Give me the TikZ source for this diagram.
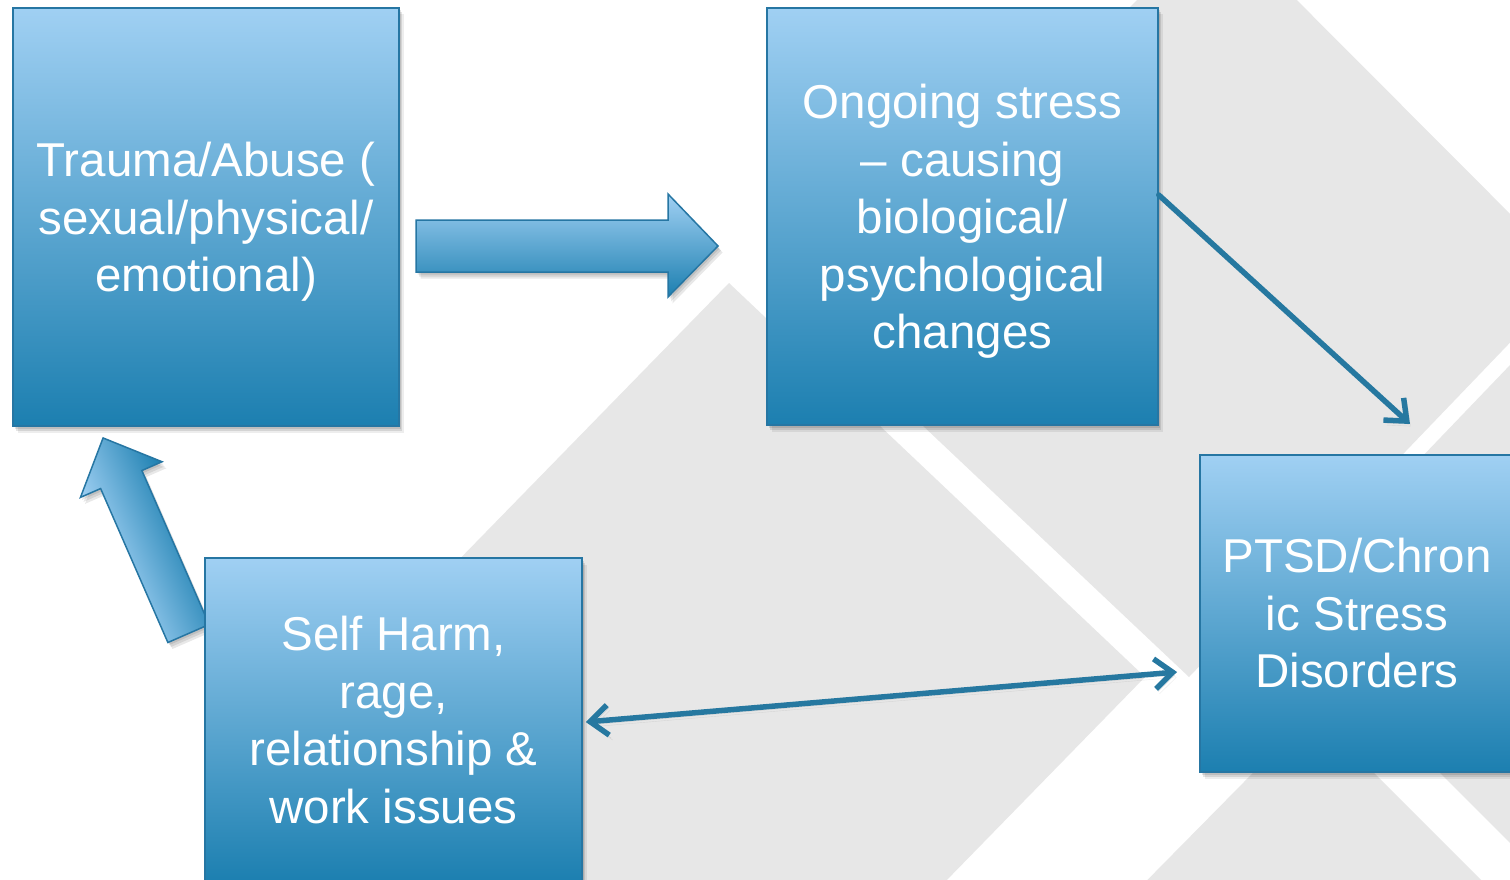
\documentclass[tikz,border=0pt]{standalone}
\usepackage{fontspec}
\setmainfont{Liberation Sans}
\usetikzlibrary{arrows.meta}
\definecolor{bggrey}{RGB}{231,231,231}
\definecolor{boxtop}{RGB}{160,208,243}
\definecolor{boxmid}{RGB}{112,172,214}
\definecolor{boxbot}{RGB}{28,127,176}
\definecolor{boxedge}{RGB}{38,118,163}
\definecolor{linkblue}{RGB}{38,120,160}
\begin{document}
\begin{tikzpicture}[x=1pt,y=-1pt,
  softshadow/.style={
    preaction={fill=black,opacity=0.10,transform canvas={xshift=1.5pt,yshift=-2.5pt}},
    preaction={fill=black,opacity=0.10,transform canvas={xshift=3pt,yshift=-4.5pt}},
    preaction={fill=black,opacity=0.07,transform canvas={xshift=4.5pt,yshift=-6.5pt}}},
  stepbox/.style={softshadow,draw=boxedge,line width=1.5pt,top color=boxtop,middle color=boxmid,bottom color=boxbot,
    text=white,align=center,font=\fontsize{47.5}{57.5}\selectfont,inner sep=0pt},
  blockarrow/.style={draw=boxedge,line width=1.5pt,top color=boxtop,bottom color=boxbot,line join=miter},
  arrowshade/.style={fill=black,opacity=0.09},
  link/.style={draw=linkblue,line width=5.5pt,line cap=round,line join=round,
    preaction={draw=black,opacity=0.10,transform canvas={xshift=2pt,yshift=-3pt}},
    preaction={draw=black,opacity=0.08,transform canvas={xshift=3.5pt,yshift=-5pt}}},
  barb/.tip={Straight Barb[length=18pt,width=30pt]}
]
\useasboundingbox (0,0) rectangle (1510,880);
\fill[white] (0,0) rectangle (1510,880);
% background tiles
\begin{scope}
\clip (0,0) rectangle (1510,880);
\fill[bggrey] (729,283) -- (1145,677) -- (739,1093) -- (323,699) -- cycle;
\fill[bggrey] (814,323) -- (1217,-80) -- (1573,277) -- (1189,677) -- cycle;
\fill[bggrey] (1276,609) -- (1700,167) -- (1700,1033) -- cycle;
\fill[bggrey] (1313,712) -- (1600,999) -- (1030,999) -- cycle;
\end{scope}
% block arrow right
\foreach \dx/\dy in {1.5/2.5,3/4.5,4.5/6.5}{
  \fill[arrowshade,shift={(\dx,\dy)}] (416,220) -- (668,220) -- (668,194) -- (718,246) -- (668,297) -- (668,272) -- (416,272) -- cycle;
}
\path[blockarrow] (416,220) -- (668,220) -- (668,194) -- (718,246) -- (668,297) -- (668,272) -- (416,272) -- cycle;
% block arrow up-left
\foreach \dx/\dy in {1.5/2.5,3/4.5,4.5/6.5}{
  \fill[arrowshade,shift={(\dx,\dy)}] (167.9,642.5) -- (100.6,488.6) -- (80.5,497.4) -- (103.1,437.9) -- (162.0,461.7) -- (141.9,470.5) -- (209.1,624.5) -- cycle;
}
\begin{scope}[transform canvas={shift={(188.5,633.5)},rotate=113.6}]
\path[blockarrow] (0,-22.5) -- (168,-22.5) -- (168,-44.5) -- (213.4,0) -- (168,44.5) -- (168,22.5) -- (0,22.5) -- cycle;
\end{scope}
% boxes
\node[stepbox,minimum width=386pt,minimum height=418pt] (b1) at (206,217) {Trauma/Abuse (\\sexual/physical/\\\smash{emotional)}};
\node[stepbox,minimum width=391pt,minimum height=417pt] (b2) at (962.5,216.5) {Ongoing stress\\– causing\\biological/\\psychological\\\smash{changes}};
\node[stepbox,minimum width=314pt,minimum height=317pt] (b3) at (1357,613.5) {PTSD/Chron\\ic Stress\\Disorders};
\node[stepbox,minimum width=377pt,minimum height=324pt] (b4) at (393.5,720) {Self Harm,\\rage,\\relationship \&\\work issues};
% connectors
\coordinate (e1) at (1410,424);
\coordinate (e2) at (1177,672);
\draw[link,-barb] ([yshift=21.5pt]b2.east) -- (e1);
\draw[link,barb-barb] ([xshift=3pt,yshift=-2pt]b4.east) -- (e2);
\end{tikzpicture}
\end{document}
